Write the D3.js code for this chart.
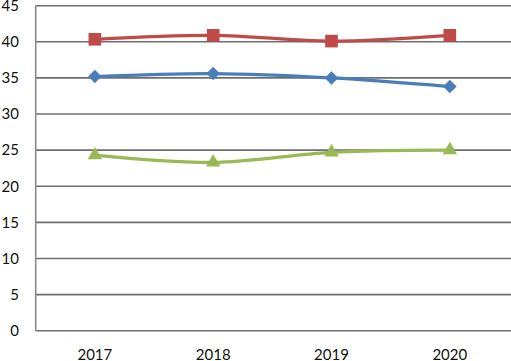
<!DOCTYPE html>
<html>
<head>
<meta charset="utf-8">
<script src="https://cdn.jsdelivr.net/npm/d3@7"></script>
<style>
  body { margin: 0; background: #fff; }
  svg { display: block; }
</style>
</head>
<body>
<div id="chart"></div>
<script>
// data
var years = ["2017", "2018", "2019", "2020"];
var redValues = [40.35, 40.9, 40.1, 40.9];
var blueValues = [35.2, 35.6, 35.0, 33.8];
var greenValues = [24.3, 23.3, 24.7, 25.0];
var yTicks = [0, 5, 10, 15, 20, 25, 30, 35, 40, 45];

var width = 511, height = 361;
var margin = { top: 5.7, right: 2, bottom: 30.3, left: 35.7 };

const svg = d3.select("#chart").append("svg")
    .attr("width", width)
    .attr("height", height);

var x = d3.scaleBand()
    .domain(years)
    .range([margin.left, width - margin.right]);
var y = d3.scaleLinear()
    .domain([0, 45])
    .range([height - margin.bottom, margin.top]);

// Excel-style diamond: a square turned 45 degrees
var wideDiamond = {
    draw: function (context, size) {
        var r = Math.sqrt(size / 2);
        context.moveTo(0, -r);
        context.lineTo(r, 0);
        context.lineTo(0, r);
        context.lineTo(-r, 0);
        context.closePath();
    }
};

// gridlines
svg.append("g")
    .selectAll("line")
    .data(yTicks)
    .join("line")
    .attr("x1", margin.left)
    .attr("x2", width)
    .attr("y1", d => y(d))
    .attr("y2", d => y(d))
    .attr("stroke", "#6e6e6e")
    .attr("stroke-width", 1.6);

// left axis line
svg.append("line")
    .attr("x1", margin.left).attr("x2", margin.left)
    .attr("y1", y(45)).attr("y2", y(0))
    .attr("stroke", "#8a8a8a")
    .attr("stroke-width", 1.6);

// y labels
svg.append("g")
    .selectAll("text")
    .data(yTicks)
    .join("text")
    .attr("x", 19)
    .attr("y", d => y(d))
    .attr("dy", "0.35em")
    .attr("text-anchor", "end")
    .attr("font-family", "Lato, 'Open Sans', sans-serif")
    .attr("font-size", "15px")
    .attr("fill", "#111")
    .text(d => d);

// x labels
svg.append("g")
    .selectAll("text")
    .data(years)
    .join("text")
    .attr("x", d => x(d) + x.bandwidth() / 2)
    .attr("y", 359.5)
    .attr("text-anchor", "middle")
    .attr("font-family", "Lato, 'Open Sans', sans-serif")
    .attr("font-size", "15px")
    .attr("fill", "#111")
    .text(d => d);

var line = d3.line()
    .x((d, i) => x(years[i]) + x.bandwidth() / 2)
    .y(d => y(d))
    .curve(d3.curveCatmullRom.alpha(0.5));

var series = [
    { values: blueValues, color: "#4a7ebb", symbol: wideDiamond, size: 92 },
    { values: redValues, color: "#be4b48", symbol: d3.symbolSquare, size: 160 },
    { values: greenValues, color: "#98b954", symbol: d3.symbolTriangle, size: 90 }
];

series.forEach(function (s) {
    svg.append("path")
        .datum(s.values)
        .attr("d", line)
        .attr("fill", "none")
        .attr("stroke", s.color)
        .attr("stroke-width", 3.2);

    svg.append("g")
        .selectAll("path")
        .data(s.values)
        .join("path")
        .attr("transform", (d, i) => "translate(" + (x(years[i]) + x.bandwidth() / 2) + "," + y(d) + ")")
        .attr("d", d3.symbol().type(s.symbol).size(s.size))
        .attr("fill", s.color);
});
</script>
</body>
</html>
